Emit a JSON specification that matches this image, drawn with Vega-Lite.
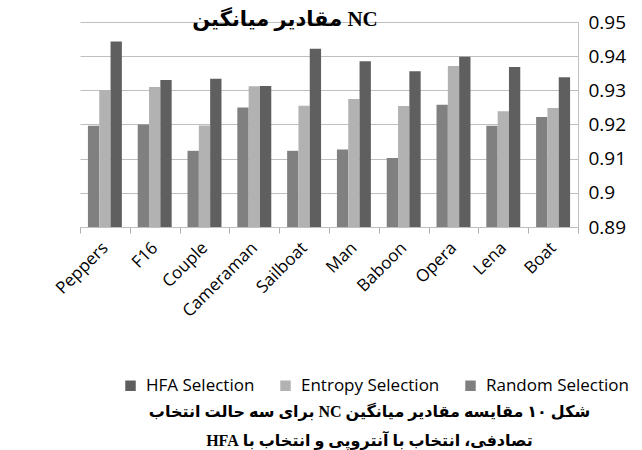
{
  "$schema": "https://vega.github.io/schema/vega-lite/v6.json",
  "width": 498,
  "height": 205,
  "autosize": {"type": "none"},
  "padding": {"left": 80, "top": 22, "right": 64, "bottom": 223},
  "background": "white",
  "title": {
    "text": "مقادیر میانگین NC",
    "font": "Liberation Serif, DejaVu Sans",
    "fontSize": 21,
    "fontWeight": "bold",
    "color": "#000000",
    "anchor": "middle",
    "dx": -44,
    "dy": 28,
    "offset": -10,
    "baseline": "bottom"
  },
  "data": {
    "values": [
      {"image": "Peppers", "method": "Random Selection", "value": 0.9196},
      {"image": "Peppers", "method": "Entropy Selection", "value": 0.9300},
      {"image": "Peppers", "method": "HFA Selection", "value": 0.9443},
      {"image": "F16", "method": "Random Selection", "value": 0.9200},
      {"image": "F16", "method": "Entropy Selection", "value": 0.9310},
      {"image": "F16", "method": "HFA Selection", "value": 0.9330},
      {"image": "Couple", "method": "Random Selection", "value": 0.9123},
      {"image": "Couple", "method": "Entropy Selection", "value": 0.9197},
      {"image": "Couple", "method": "HFA Selection", "value": 0.9334},
      {"image": "Cameraman", "method": "Random Selection", "value": 0.9250},
      {"image": "Cameraman", "method": "Entropy Selection", "value": 0.9312},
      {"image": "Cameraman", "method": "HFA Selection", "value": 0.9313},
      {"image": "Sailboat", "method": "Random Selection", "value": 0.9123},
      {"image": "Sailboat", "method": "Entropy Selection", "value": 0.9255},
      {"image": "Sailboat", "method": "HFA Selection", "value": 0.9422},
      {"image": "Man", "method": "Random Selection", "value": 0.9127},
      {"image": "Man", "method": "Entropy Selection", "value": 0.9275},
      {"image": "Man", "method": "HFA Selection", "value": 0.9385},
      {"image": "Baboon", "method": "Random Selection", "value": 0.9102},
      {"image": "Baboon", "method": "Entropy Selection", "value": 0.9254},
      {"image": "Baboon", "method": "HFA Selection", "value": 0.9356},
      {"image": "Opera", "method": "Random Selection", "value": 0.9258},
      {"image": "Opera", "method": "Entropy Selection", "value": 0.9371},
      {"image": "Opera", "method": "HFA Selection", "value": 0.9398},
      {"image": "Lena", "method": "Random Selection", "value": 0.9196},
      {"image": "Lena", "method": "Entropy Selection", "value": 0.9239},
      {"image": "Lena", "method": "HFA Selection", "value": 0.9368},
      {"image": "Boat", "method": "Random Selection", "value": 0.9222},
      {"image": "Boat", "method": "Entropy Selection", "value": 0.9248},
      {"image": "Boat", "method": "HFA Selection", "value": 0.9338}
    ]
  },
  "mark": {"type": "bar", "clip": true},
  "encoding": {
    "x": {
      "field": "image",
      "type": "nominal",
      "sort": ["Peppers", "F16", "Couple", "Cameraman", "Sailboat", "Man", "Baboon", "Opera", "Lena", "Boat"],
      "scale": {"paddingInner": 0, "paddingOuter": 0},
      "axis": {
        "title": ["\u202Bشکل ۱۰ مقایسه مقادیر میانگین NC برای سه حالت انتخاب\u202C", "\u202Bتصادفی، انتخاب با آنتروپی و انتخاب با HFA\u202C"],
        "titleFont": "Liberation Serif, DejaVu Sans",
        "titleFontSize": 16,
        "titleFontWeight": "bold",
        "titleColor": "#000000",
        "titleX": 289,
        "titleY": 176,
        "titleAlign": "center",
        "titleBaseline": "top",
        "titleLineHeight": 29,
        "titleAngle": 0,
        "tickBand": "extent",
        "labelAngle": -45,
        "labelAlign": "right",
        "labelBaseline": "middle",
        "labelPadding": 12,
        "labelFont": "Open Sans",
        "labelFontSize": 17,
        "labelColor": "#000000",
        "domainColor": "#bfbfbf",
        "ticks": true,
        "tickColor": "#b0b0b0",
        "tickSize": 6,
        "tickWidth": 1,
        "grid": false
      }
    },
    "xOffset": {
      "field": "method",
      "type": "nominal",
      "sort": ["Random Selection", "Entropy Selection", "HFA Selection"],
      "scale": {"paddingInner": 0, "paddingOuter": 0.7}
    },
    "y": {
      "field": "value",
      "type": "quantitative",
      "scale": {"domain": [0.89, 0.95], "zero": false, "nice": false},
      "axis": {
        "orient": "right",
        "title": null,
        "values": [0.89, 0.9, 0.91, 0.92, 0.93, 0.94, 0.95],
        "format": ".2~f",
        "labelFont": "Open Sans",
        "labelFontSize": 19,
        "labelColor": "#000000",
        "labelPadding": 10,
        "ticks": false,
        "domainColor": "#bfbfbf",
        "gridColor": "#bfbfbf",
        "grid": true
      }
    },
    "y2": {"datum": 0.89},
    "color": {
      "field": "method",
      "type": "nominal",
      "scale": {
        "domain": ["HFA Selection", "Entropy Selection", "Random Selection"],
        "range": ["#5f5f5f", "#b2b2b2", "#808080"]
      },
      "legend": {
        "title": null,
        "orient": "none",
        "direction": "horizontal",
        "legendX": 42,
        "legendY": 355,
        "symbolType": "square",
        "symbolSize": 110,
        "symbolStrokeWidth": 0,
        "labelFont": "Open Sans",
        "labelFontSize": 17,
        "labelColor": "#000000",
        "columnPadding": 22,
        "labelOffset": 7
      }
    }
  },
  "config": {
    "view": {"stroke": null}
  }
}
